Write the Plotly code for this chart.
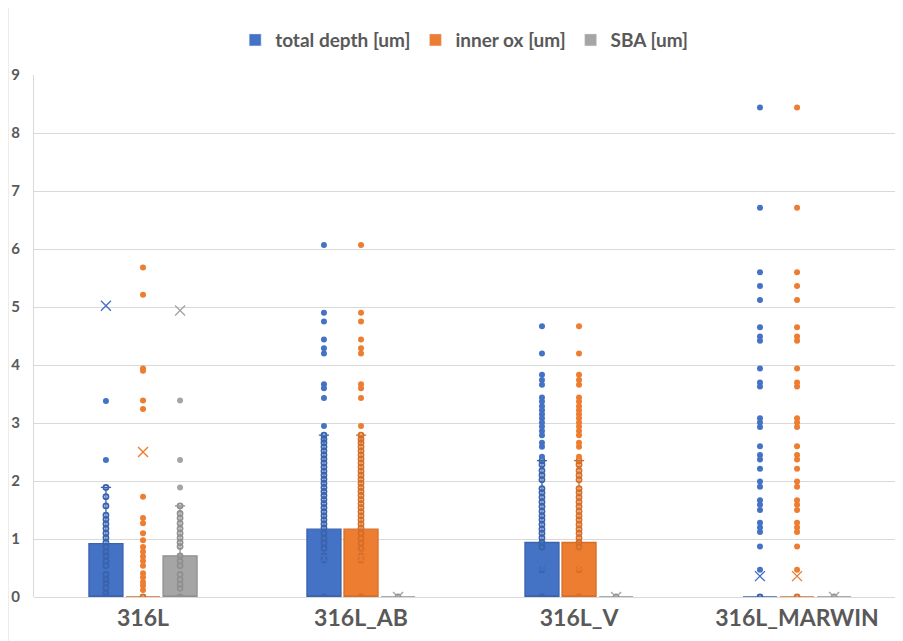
import plotly.graph_objects as go

categories = ["316L", "316L_AB", "316L_V", "316L_MARWIN"]
series_names = ["total depth [um]", "inner ox [um]", "SBA [um]"]

# box statistics per category (Q1 = median = 0 in every box)
total_q3 = [0.92, 1.17, 0.94, 0.0]
total_whisker = [1.89, 2.79, 2.35, 0.0]
total_mean = [5.02, 0.67, 0.52, 0.36]

inner_q3 = [0.0, 1.17, 0.94, 0.0]
inner_whisker = [0.0, 2.79, 2.35, 0.0]
inner_mean = [2.50, 0.67, 0.52, 0.36]

sba_q3 = [0.71, 0.0, 0.0, 0.0]
sba_whisker = [1.57, 0.0, 0.0, 0.0]
sba_mean = [4.94, 0.0, 0.0, 0.0]

# total depth points
total_inner_pts = {
    "316L": [1.89, 1.73, 1.57, 1.41, 1.34, 1.26, 1.18, 1.10, 1.02, 0.94, 0.87, 0.78,
             0.71, 0.62, 0.54, 0.39, 0.30, 0.24, 0.16, 0.06, 0.0],
    "316L_AB": [2.79, 2.72, 2.66, 2.59, 2.52, 2.45, 2.38, 2.31, 2.24, 2.17, 2.10, 2.03,
                1.96, 1.89, 1.82, 1.75, 1.68, 1.61, 1.54, 1.47, 1.40, 1.33, 1.26, 1.19,
                1.10, 1.01, 0.93, 0.84, 0.71, 0.64, 0.0],
    "316L_V": [2.35, 2.28, 2.18, 2.10, 2.02, 1.87, 1.80, 1.72, 1.64, 1.56, 1.48, 1.40,
               1.33, 1.25, 1.17, 1.10, 1.02, 0.94, 0.86, 0.47, 0.0],
    "316L_MARWIN": [0.0],
}
total_outliers = {
    "316L": [3.38, 2.36],
    "316L_AB": [6.07, 4.90, 4.75, 4.44, 4.29, 4.20, 3.67, 3.60, 3.43, 2.95],
    "316L_V": [4.67, 4.20, 3.83, 3.74, 3.66, 3.44, 3.37, 3.29, 3.22, 3.15, 3.08, 3.01,
               2.94, 2.86, 2.79, 2.66, 2.59, 2.42],
    "316L_MARWIN": [8.44, 6.71, 5.60, 5.36, 5.12, 4.65, 4.49, 4.42, 3.94, 3.70, 3.63,
                    3.08, 3.01, 2.93, 2.60, 2.45, 2.37, 2.21, 1.99, 1.90, 1.67, 1.59,
                    1.50, 1.28, 1.20, 1.12, 0.87, 0.47],
}

# inner ox points
inner_inner_pts = {
    "316L": [0.0],
    "316L_AB": total_inner_pts["316L_AB"],
    "316L_V": total_inner_pts["316L_V"],
    "316L_MARWIN": [0.0],
}
inner_outliers = {
    "316L": [5.68, 5.21, 3.94, 3.90, 3.39, 3.24, 1.73, 1.36, 1.27, 1.10, 0.98, 0.86,
             0.78, 0.70, 0.62, 0.54, 0.41, 0.34, 0.26, 0.20, 0.12],
    "316L_AB": total_outliers["316L_AB"],
    "316L_V": total_outliers["316L_V"],
    "316L_MARWIN": total_outliers["316L_MARWIN"],
}

# SBA points
sba_inner_pts = {
    "316L": [1.57, 1.44, 1.36, 1.27, 1.18, 1.10, 1.02, 0.94, 0.87, 0.71, 0.62, 0.54,
             0.39, 0.30, 0.22, 0.15, 0.0],
    "316L_AB": [0.0],
    "316L_V": [0.0],
    "316L_MARWIN": [0.0],
}
sba_outliers = {
    "316L": [3.39, 2.36, 1.89],
    "316L_AB": [],
    "316L_V": [],
    "316L_MARWIN": [],
}

y_ticks = [0, 1, 2, 3, 4, 5, 6, 7, 8, 9]

colors = ["#4472C4", "#ED7D31", "#A5A5A5"]
edge_colors = ["#3A63AE", "#D66E28", "#909090"]
offsets = [-0.17, 0.0, 0.17]
box_w = 0.156

series = [
    (total_q3, total_whisker, total_mean, total_inner_pts, total_outliers),
    (inner_q3, inner_whisker, inner_mean, inner_inner_pts, inner_outliers),
    (sba_q3, sba_whisker, sba_mean, sba_inner_pts, sba_outliers),
]

fig = go.Figure()
font_main = "Lato, 'Open Sans', sans-serif"

for s, (q3, wh, mean, ipts, opts) in enumerate(series):
    xs = [i + offsets[s] for i in range(len(categories))]
    fig.add_trace(go.Box(
        x=xs, q1=[0.0] * len(xs), median=[0.0] * len(xs), q3=q3,
        lowerfence=[0.0] * len(xs), upperfence=wh,
        width=box_w, whiskerwidth=0.3, boxpoints=False,
        fillcolor=colors[s], line=dict(color=edge_colors[s], width=1.3),
        showlegend=False, hoverinfo="skip",
    ))
    # inner points
    px, py = [], []
    for i, c in enumerate(categories):
        for v in ipts[c]:
            px.append(xs[i]); py.append(v)
    fig.add_trace(go.Scatter(
        x=px, y=py, mode="markers", showlegend=False,
        marker=dict(symbol="circle-open", size=5, color=edge_colors[s],
                    line=dict(width=1.8, color=edge_colors[s])),
    ))
    # outliers
    ox, oy = [], []
    for i, c in enumerate(categories):
        for v in opts[c]:
            ox.append(xs[i]); oy.append(v)
    fig.add_trace(go.Scatter(
        x=ox, y=oy, mode="markers", showlegend=False,
        marker=dict(symbol="circle", size=6, color=colors[s], line=dict(width=0)),
    ))
    # means
    fig.add_trace(go.Scatter(
        x=xs, y=mean, mode="markers", showlegend=False,
        marker=dict(symbol="x-thin", size=10, color=colors[s],
                    line=dict(width=1.4, color=colors[s])),
    ))
    # legend entry
    fig.add_trace(go.Bar(
        x=[None], y=[None], name=series_names[s], marker_color=colors[s],
        showlegend=True,
    ))

# the page body adds an 8px offset; size and margins compensate for it
fig.update_layout(
    width=895, height=633,
    margin=dict(l=26, r=0, t=67, b=44),
    paper_bgcolor="white", plot_bgcolor="white",
    font=dict(family=font_main, color="#595959"),
    boxmode="overlay",
    legend=dict(
        orientation="h", x=0.495, xanchor="center", y=1.067, yanchor="middle",
        font=dict(size=19, color="#595959", family=font_main, weight=700),
        itemwidth=30, traceorder="normal",
    ),
    xaxis=dict(
        range=[-0.5, 3.486], tickmode="array",
        tickvals=list(range(len(categories))), ticktext=categories,
        tickfont=dict(size=23, weight=700, color="#595959", family=font_main),
        showgrid=False, zeroline=False, showline=False, ticks="",
        ticklabelstandoff=5,
    ),
    yaxis=dict(
        range=[0, 9], tickmode="array", tickvals=y_ticks,
        tickfont=dict(size=15, weight=700, color="#595959", family=font_main),
        showgrid=True, gridcolor="#D9D9D9", gridwidth=1,
        zeroline=True, zerolinecolor="#D9D9D9", zerolinewidth=1,
        showline=True, linecolor="#D9D9D9", linewidth=1, ticks="",
        ticklabelstandoff=10,
    ),
    shapes=[dict(type="line", xref="paper", yref="paper",
                 x0=-26 / 869, x1=-26 / 869, y0=-0.2, y1=1.2,
                 line=dict(color="#D9D9D9", width=1))],
)

fig.write_html("out.html")
